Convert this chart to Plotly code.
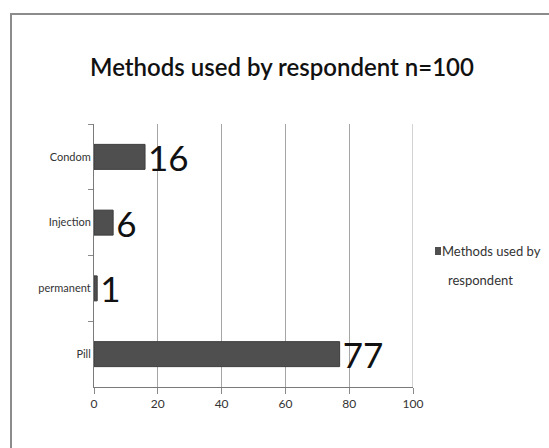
import plotly.graph_objects as go

# Contraceptive methods reported by respondents (n=100)
methods = ["Condom", "Injection", "permanent", "Pill"]
counts = [16, 6, 1, 77]
x_ticks = [0, 20, 40, 60, 80, 100]
series_name = "Methods used by respondent"
title_text = "Methods used by respondent n=100"

FONT = "Lato, Carlito, Open Sans, sans-serif"
BAR_COLOR = "#4f4f4f"

# plot-area geometry in pixels (used to place the title and the legend key)
W, H = 549, 448
L, R, T, B = 94, 413, 124, 387

def px_x(x):
    return (x - L) / (R - L)

def px_y(y):
    return (B - y) / (B - T)

fig = go.Figure()
fig.add_trace(go.Bar(
    y=methods,
    x=counts,
    orientation="h",
    name=series_name,
    marker=dict(color=BAR_COLOR, line=dict(color="#3c3c3c", width=1)),
    width=0.38,
    text=[str(c) for c in counts],
    textposition="outside",
    constraintext="none",
    textfont=dict(family=FONT, size=35, color="#111111"),
    cliponaxis=False,
    showlegend=False,
))

# legend key drawn beside the plot area
legend_lines = ["Methods used by", "respondent"]
annotations = [
    dict(xref="paper", yref="paper", x=px_x(440), y=px_y(251),
         text=legend_lines[0], showarrow=False, xanchor="left", yanchor="middle",
         font=dict(family=FONT, size=13, color="#333333")),
    dict(xref="paper", yref="paper", x=px_x(446), y=px_y(280),
         text=legend_lines[1], showarrow=False, xanchor="left", yanchor="middle",
         font=dict(family=FONT, size=13, color="#333333")),
]

shapes = [
    # chart-area frame
    dict(type="rect", xref="paper", yref="paper",
         x0=px_x(11), x1=px_x(600), y0=px_y(470), y1=px_y(14),
         line=dict(color="#8c8c8c", width=2), fillcolor="rgba(0,0,0,0)", layer="below"),
    # gridline at the right end of the value axis
    dict(type="line", xref="x", yref="paper", x0=100, x1=100, y0=0, y1=1,
         line=dict(color="#a6a6a6", width=1), layer="below"),
    # legend swatch
    dict(type="rect", xref="paper", yref="paper",
         x0=px_x(435), x1=px_x(441), y0=px_y(255), y1=px_y(247),
         line=dict(width=0), fillcolor=BAR_COLOR),
]

fig.update_layout(
    width=W,
    height=H,
    margin=dict(l=L, r=W - R, t=T, b=H - B),
    paper_bgcolor="white",
    plot_bgcolor="white",
    font=dict(family=FONT, color="#333333"),
    title=dict(
        text=title_text,
        font=dict(family=FONT, size=24, color="#111111", weight=600),
        x=282 / W, xanchor="center",
        y=1 - 68 / H, yanchor="middle",
    ),
    annotations=annotations,
    shapes=shapes,
)

fig.update_xaxes(
    range=[0, 100],
    tickvals=x_ticks,
    ticktext=[str(t) for t in x_ticks],
    showgrid=True, gridcolor="#a6a6a6", gridwidth=1,
    showline=True, linecolor="#7a7a7a", linewidth=1,
    ticks="outside", ticklen=6, tickcolor="#8a8a8a",
    tickfont=dict(family=FONT, size=12, color="#333333"),
    zeroline=False,
)
fig.update_yaxes(
    autorange="reversed",
    showline=True, linecolor="#7a7a7a", linewidth=1,
    ticks="outside", ticklen=5, tickcolor="#8a8a8a",
    tickson="boundaries",
    tickfont=dict(family=FONT, size=11, color="#333333"),
    showgrid=False,
)

fig.write_html("out.html")
